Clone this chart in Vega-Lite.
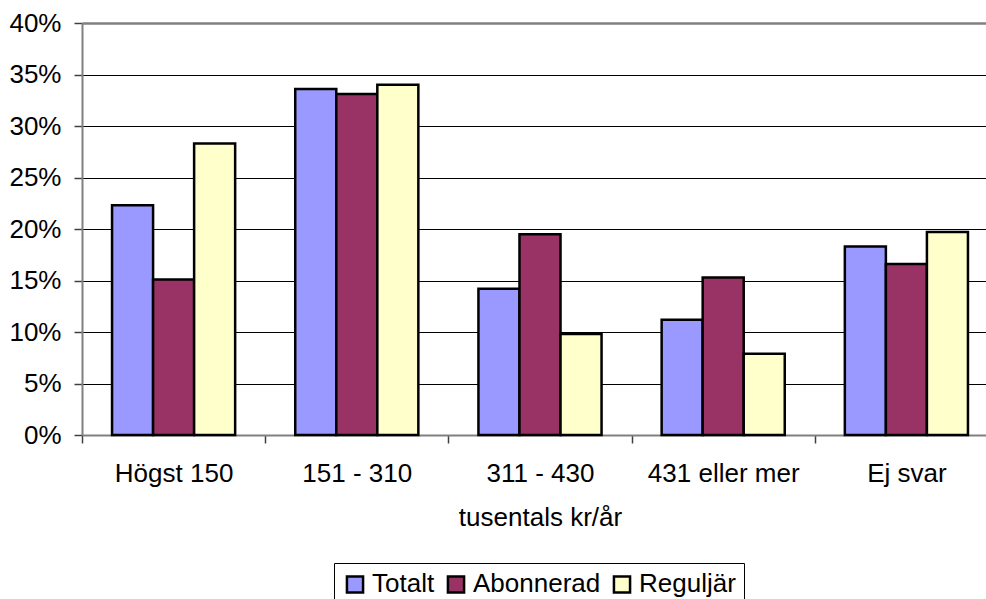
{
  "$schema": "https://vega.github.io/schema/vega-lite/v6.json",
  "width": 904,
  "height": 412,
  "autosize": {"type": "none"},
  "padding": {"left": 82, "top": 23, "right": 0, "bottom": 164},
  "background": "white",
  "config": {
    "view": {"stroke": null},
    "font": "Liberation Sans"
  },
  "data": {
    "values": [
      {"kategori": "Högst 150", "grupp": "Totalt", "andel": 0.223},
      {"kategori": "Högst 150", "grupp": "Abonnerad", "andel": 0.151},
      {"kategori": "Högst 150", "grupp": "Reguljär", "andel": 0.283},
      {"kategori": "151 - 310", "grupp": "Totalt", "andel": 0.336},
      {"kategori": "151 - 310", "grupp": "Abonnerad", "andel": 0.331},
      {"kategori": "151 - 310", "grupp": "Reguljär", "andel": 0.34},
      {"kategori": "311 - 430", "grupp": "Totalt", "andel": 0.142},
      {"kategori": "311 - 430", "grupp": "Abonnerad", "andel": 0.195},
      {"kategori": "311 - 430", "grupp": "Reguljär", "andel": 0.098},
      {"kategori": "431 eller mer", "grupp": "Totalt", "andel": 0.112},
      {"kategori": "431 eller mer", "grupp": "Abonnerad", "andel": 0.153},
      {"kategori": "431 eller mer", "grupp": "Reguljär", "andel": 0.079},
      {"kategori": "Ej svar", "grupp": "Totalt", "andel": 0.183},
      {"kategori": "Ej svar", "grupp": "Abonnerad", "andel": 0.166},
      {"kategori": "Ej svar", "grupp": "Reguljär", "andel": 0.197}
    ]
  },
  "mark": {"type": "bar", "stroke": "black", "strokeWidth": 2.5},
  "encoding": {
    "x": {
      "field": "kategori",
      "type": "nominal",
      "sort": ["Högst 150", "151 - 310", "311 - 430", "431 eller mer", "Ej svar"],
      "scale": {"range": [0, 916], "paddingInner": 0.328, "paddingOuter": 0.164},
      "axis": {
        "title": "tusentals kr/år",
        "titleFontSize": 26,
        "titleFontWeight": "normal",
        "titleColor": "black",
        "titlePadding": 18,
        "labelAngle": 0,
        "labelFontSize": 26,
        "labelColor": "black",
        "labelPadding": 17,
        "bandPosition": 0,
        "tickOffset": -30,
        "labelOffset": 30,
        "tickSize": 8,
        "tickColor": "#404040",
        "tickWidth": 1.5,
        "domainColor": "#808080",
        "domainWidth": 2
      }
    },
    "xOffset": {
      "field": "grupp",
      "type": "nominal",
      "sort": ["Totalt", "Abonnerad", "Reguljär"]
    },
    "y": {
      "field": "andel",
      "type": "quantitative",
      "scale": {"domain": [0, 0.4], "nice": false},
      "axis": {
        "title": null,
        "format": ".0%",
        "values": [0, 0.05, 0.1, 0.15, 0.2, 0.25, 0.3, 0.35, 0.4],
        "labelFontSize": 26,
        "labelColor": "black",
        "labelPadding": 13,
        "tickSize": 8,
        "tickColor": "#404040",
        "tickWidth": 1.5,
        "domainColor": "#808080",
        "domainWidth": 2,
        "grid": true,
        "gridColor": {"condition": {"test": "datum.value >= 0.4", "value": "#808080"}, "value": "black"},
        "gridWidth": {"condition": {"test": "datum.value >= 0.4", "value": 2.5}, "value": 1.2},
        "gridOpacity": 1
      }
    },
    "color": {
      "field": "grupp",
      "type": "nominal",
      "sort": ["Totalt", "Abonnerad", "Reguljär"],
      "scale": {
        "domain": ["Totalt", "Abonnerad", "Reguljär"],
        "range": ["#9999FF", "#993366", "#FFFFCC"]
      },
      "legend": {
        "title": null,
        "orient": "none",
        "legendX": 252,
        "legendY": 540,
        "direction": "horizontal",
        "strokeColor": "black",
        "fillColor": "white",
        "padding": 8,
        "symbolType": "square",
        "symbolSize": 260,
        "symbolStrokeColor": "black",
        "symbolStrokeWidth": 2.5,
        "symbolOpacity": 1,
        "labelFontSize": 26,
        "labelColor": "black",
        "labelOffset": 4,
        "columnPadding": 7
      }
    }
  }
}
